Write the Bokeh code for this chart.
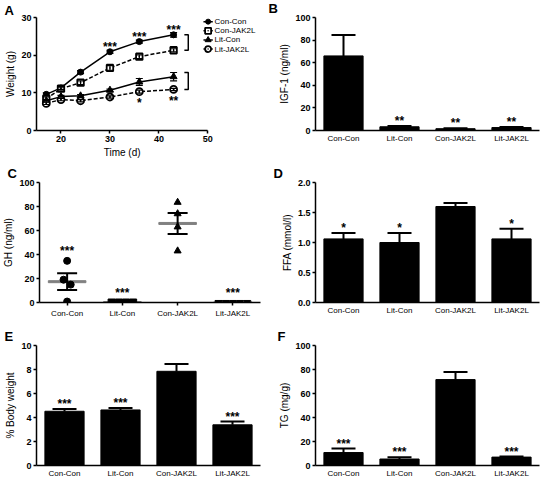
import numpy as np
from bokeh.plotting import figure
from bokeh.models import (Range1d, FactorRange, FixedTicker, Whisker, TeeHead, ColumnDataSource,
                          NumeralTickFormatter)
from bokeh.layouts import column, row
from bokeh.embed import file_html
from bokeh.resources import INLINE
from bokeh.core.properties import value

FONT = "Liberation Sans"

# ---------------- data ----------------
# Panel A: body weight over time
days = [17, 20, 24, 30, 36, 43]
w_con_con = [9.6, 11.3, 15.5, 20.9, 23.6, 25.4]
w_con_jak = [8.4, 11.1, 12.7, 16.6, 19.6, 21.3]
w_lit_con = [7.9, 9.0, 9.2, 10.7, 12.9, 14.3]
w_lit_jak = [7.2, 8.2, 7.9, 8.9, 10.3, 10.9]
e_con_con = [0.4, 0.4, 0.4, 0.4, 0.4, 0.6]
e_con_jak = [0.5, 0.4, 0.5, 0.6, 0.5, 0.4]
e_lit_con = [0.3, 0.3, 0.3, 0.3, 0.9, 1.1]
e_lit_jak = [0.3, 0.3, 0.3, 0.3, 0.4, 0.3]
sig_upper = ["", "", "", "***", "***", "***"]
sig_lower = ["", "", "", "", "*", "**"]

# Bar / scatter panels
groups = ["Con-Con", "Lit-Con", "Con-JAK2L", "Lit-JAK2L"]

igf = [66.0, 3.3, 1.6, 2.6]
igf_err = [18.5, 0.7, 0.3, 0.4]
igf_sig = ["", "**", "**", "**"]

gh_con_con = [34.7, 19.0, 14.9, 0.8]
gh_lit_con = [0.0, 0.0, 0.0, 0.0]
gh_con_jak = [83.5, 74.0, 63.0, 43.0]
gh_lit_jak = [0.0, 0.0, 0.0, 0.0, 0.0]
gh_sig = ["***", "***", "", "***"]

ffa = [1.06, 1.00, 1.60, 1.06]
ffa_err = [0.10, 0.16, 0.06, 0.17]
ffa_sig = ["*", "*", "", "*"]

bw = [4.52, 4.63, 7.85, 3.39]
bw_err = [0.19, 0.16, 0.60, 0.27]
bw_sig = ["***", "***", "", "***"]

tg = [10.8, 5.4, 71.6, 7.0]
tg_err = [3.3, 1.5, 6.3, 0.5]
tg_sig = ["***", "***", "", "***"]

WL, WR = 268, 278
H1, H2, H3 = 160, 164, 164


def style(p, cat=False):
    p.outline_line_color = None
    p.xgrid.visible = False
    p.ygrid.visible = False
    p.background_fill_color = "white"
    p.border_fill_color = "white"
    for ax in p.axis:
        ax.axis_line_width = 1.5
        ax.axis_line_color = "black"
        ax.major_tick_line_width = 1.5
        ax.major_tick_line_color = "black"
        ax.minor_tick_line_color = None
        ax.major_tick_in = 0
        ax.major_tick_out = 3
        ax.major_label_text_font = FONT
        ax.major_label_text_color = "black"
        ax.axis_label_text_font = FONT
        ax.axis_label_text_font_style = "normal"
        ax.axis_label_text_font_size = "10px"
        ax.axis_label_text_color = "black"
        ax.major_label_standoff = 2
        ax.axis_label_standoff = 2
    p.yaxis.major_label_text_font_style = "bold"
    p.yaxis.major_label_text_font_size = "9px"
    if cat:
        p.xaxis.major_label_text_font_style = "normal"
        p.xaxis.major_label_text_font_size = "8px"
        p.xaxis.major_label_standoff = 3
    else:
        p.xaxis.major_label_text_font_style = "bold"
        p.xaxis.major_label_text_font_size = "9px"


def letter(p, t, offset, valign):
    p.title.text = t
    p.title.align = "left"
    p.title.offset = offset
    p.title.standoff = 0
    p.title.vertical_align = valign
    p.title.text_font = FONT
    p.title.text_font_size = "13px"
    p.title.text_font_style = "bold"
    p.title.text_color = "black"


def stars(p, xs, ys, texts, baseline="alphabetic", yoff=0):
    keep = [i for i, t in enumerate(texts) if t]
    p.text(x=[xs[i] for i in keep], y=[ys[i] for i in keep], text=[texts[i] for i in keep],
           text_font=value(FONT), text_font_size="12px", text_font_style="bold",
           text_align="center", text_baseline=baseline, y_offset=yoff, text_color="black")


# ---------------- Panel A ----------------
# the frame is widened to the right to hold the key; the axis itself stops at 50
X_AXIS_END = 50
pA = figure(width=WL, height=H1, x_range=Range1d(15, 60.75), y_range=Range1d(0, 30),
            output_backend="svg", toolbar_location=None,
            min_border_left=36, min_border_right=8, min_border_top=16, min_border_bottom=29)
style(pA)
pA.xaxis.bounds = (15, X_AXIS_END)
pA.xaxis.ticker = FixedTicker(ticks=[20, 30, 40, 50])
pA.yaxis.ticker = FixedTicker(ticks=[0, 10, 20, 30])
# trailing no-break spaces keep the title centred under the drawn part of the axis
pA.xaxis.axis_label = "Time (d)" + "\u00a0" * 19
pA.yaxis.axis_label = "Weight (g)"

series = [
    ("Con-Con", w_con_con, e_con_con, "circle", "black", "solid", 6, 5, 1),
    ("Con-JAK2L", w_con_jak, e_con_jak, "square_dot", "white", "dashed", 6.5, 6, 1.8),
    ("Lit-Con", w_lit_con, e_lit_con, "triangle", "black", "solid", 7, 6, 1),
    ("Lit-JAK2L", w_lit_jak, e_lit_jak, "circle_dot", "white", "dashed", 7, 6, 1.8),
]

# key layout (data units of panel A)
key_x0, key_x1, key_y0, key_dy = 49.1, 51.0, 28.9, 2.43

for i, (name, ys, es, mk, fill, dash, size, ksize, lw) in enumerate(series):
    dash_pat = "4 2" if dash == "dashed" else "solid"
    src = ColumnDataSource(dict(x=days, y=ys, hi=[a + b for a, b in zip(ys, es)],
                                lo=[a - b for a, b in zip(ys, es)]))
    pA.add_layout(Whisker(base="x", upper="hi", lower="lo", source=src, line_width=1.2,
                          upper_head=TeeHead(size=7, line_width=1.2),
                          lower_head=TeeHead(size=7, line_width=1.2), level="glyph"))
    pA.line("x", "y", source=src, line_width=1.5, color="black", line_dash=dash_pat)
    pA.scatter("x", "y", source=src, marker=mk, size=size, fill_color=fill,
               line_color="black", line_width=lw)
    # key entry
    ky = key_y0 - i * key_dy
    pA.line([key_x0, key_x1], [ky, ky], line_width=1.5, color="black",
            line_dash="3 1" if dash == "dashed" else "solid")
    pA.scatter([(key_x0 + key_x1) / 2], [ky], marker=mk, size=ksize, fill_color=fill,
               line_color="black", line_width=lw)
    pA.text([key_x1 + 0.35], [ky], text=[name], text_font=value(FONT), text_font_size="8px",
            text_align="left", text_baseline="middle", text_color="black")

# significance stars
stars(pA, days, [a + b for a, b in zip(w_con_con, e_con_con)], sig_upper, "alphabetic", -3)
stars(pA, days, [a - b for a, b in zip(w_lit_jak, e_lit_jak)], sig_lower, "top", 3)

# brackets grouping the pairs at the last time point
bx0, bx1 = days[-1] + 2.2, days[-1] + 3.0
pA.multi_line(xs=[[bx0, bx1, bx1, bx0], [bx0, bx1, bx1, bx0]],
              ys=[[w_con_con[-1], w_con_con[-1], w_con_jak[-1], w_con_jak[-1]],
                  [w_lit_con[-1] + e_lit_con[-1], w_lit_con[-1] + e_lit_con[-1], w_lit_jak[-1], w_lit_jak[-1]]],
              line_width=1.5, color="black")
letter(pA, "A", -32, "bottom")


# ---------------- bar panels ----------------
def bar_panel(vals, errs, sig, ylab, ymax, ticks, w, h, mbl, mbr, mbt, mbb, fmt=None):
    p = figure(width=w, height=h, x_range=FactorRange(factors=groups), y_range=Range1d(0, ymax),
               output_backend="svg", toolbar_location=None,
               min_border_left=mbl, min_border_right=mbr, min_border_top=mbt, min_border_bottom=mbb)
    style(p, cat=True)
    p.xaxis.major_tick_out = 0
    p.xaxis.major_tick_line_color = None
    p.yaxis.ticker = FixedTicker(ticks=ticks)
    if fmt:
        p.yaxis.formatter = NumeralTickFormatter(format=fmt)
    p.yaxis.axis_label = ylab
    hi = [a + b for a, b in zip(vals, errs)]
    src = ColumnDataSource(dict(g=groups, v=vals, hi=hi))
    p.add_layout(Whisker(base="g", upper="hi", lower="v", source=src, line_width=2,
                         upper_head=TeeHead(size=24, line_width=2), lower_head=None))
    p.vbar(x="g", top="v", width=0.7, source=src, color="black")
    stars(p, groups, hi, sig, "alphabetic", -5)
    return p


pB = bar_panel(igf, igf_err, igf_sig, "IGF-1 (ng/ml)", 100, [0, 20, 40, 60, 80, 100],
               WR, H1, 47, 7, 10, 28)
letter(pB, "B", -47, "top")
pD = bar_panel(ffa, ffa_err, ffa_sig, "FFA (mmol/l)", 2.0, [0, 0.5, 1.0, 1.5, 2.0],
               WR, H2, 47, 7, 22, 21, "0.0")
letter(pD, "D", -42, "top")
pF = bar_panel(tg, tg_err, tg_sig, "TG (mg/g)", 100, [0, 20, 40, 60, 80, 100],
               WR, H3, 47, 7, 21, 22)
letter(pF, "F", -38, "top")
pE = bar_panel(bw, bw_err, bw_sig, "% Body weight", 10, [0, 2, 4, 6, 8, 10],
               WL, H3, 36, 8, 21, 23)
letter(pE, "E", -32, "top")

# ---------------- Panel C (scatter) ----------------
pC = figure(width=WL, height=H2, x_range=Range1d(0.5, 4.5), y_range=Range1d(0, 100),
            output_backend="svg", toolbar_location=None,
            min_border_left=36, min_border_right=8, min_border_top=21, min_border_bottom=22)
style(pC, cat=True)
pos = [1, 2, 3, 4]
pC.xaxis.ticker = FixedTicker(ticks=pos)
pC.xaxis.major_label_overrides = {k: g for k, g in zip(pos, groups)}
pC.yaxis.ticker = FixedTicker(ticks=[0, 20, 40, 60, 80, 100])
pC.yaxis.axis_label = "GH (ng/ml)"

gh_all = [gh_con_con, gh_lit_con, gh_con_jak, gh_lit_jak]
markers = ["circle", "square", "triangle", "inverted_triangle"]
means = [float(np.mean(v)) for v in gh_all]
sems = [float(np.std(v, ddof=1) / np.sqrt(len(v))) for v in gh_all]

pC.rect(x=pos, y=means, width=0.68, height=2, height_units="screen", color="#808080")
srcC = ColumnDataSource(dict(x=pos, hi=[m + s for m, s in zip(means, sems)],
                             lo=[m - s for m, s in zip(means, sems)]))
pC.add_layout(Whisker(base="x", upper="hi", lower="lo", source=srcC, line_width=2,
                      upper_head=TeeHead(size=20, line_width=2),
                      lower_head=TeeHead(size=20, line_width=2), level="glyph"))


def swarm(vals, thresh=6.0, step=0.13):
    # spread points that would overlap
    offs = [0.0] * len(vals)
    used = [False] * len(vals)
    for i in range(len(vals)):
        if used[i]:
            continue
        cl = [j for j in range(len(vals)) if not used[j] and abs(vals[j] - vals[i]) < thresh]
        for k, j in enumerate(cl):
            offs[j] = (k - (len(cl) - 1) / 2) * step
            used[j] = True
    return offs


for p_i, vals, mk in zip(pos, gh_all, markers):
    offs = swarm(vals)
    pC.scatter(x=[p_i + o for o in offs], y=vals, marker=mk, size=7, color="black")

stars(pC, pos, [max(max(v), m + s) for v, m, s in zip(gh_all, means, sems)], gh_sig, "alphabetic", -10)
letter(pC, "C", -32, "top")

layout = column(row(pA, pB), row(pC, pD), row(pE, pF))
open("out.html", "w").write(file_html(layout, INLINE))
